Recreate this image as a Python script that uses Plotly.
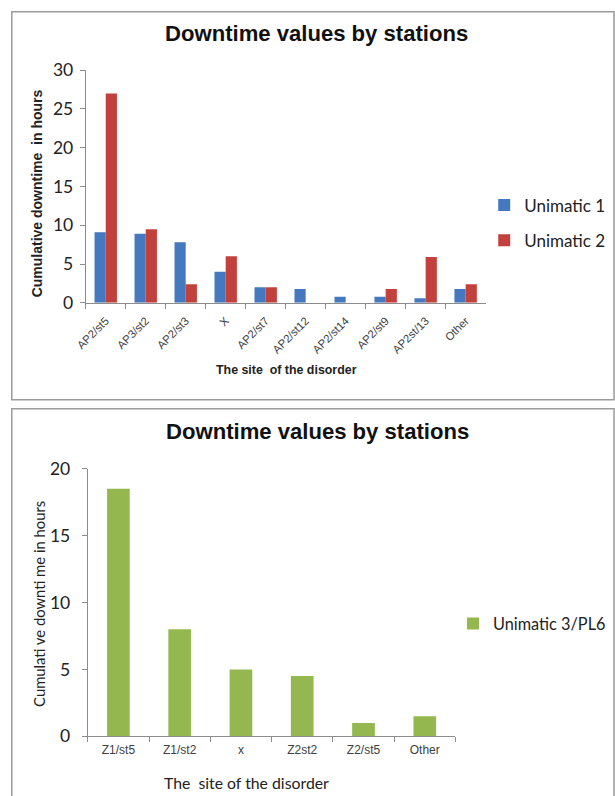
import plotly.graph_objects as go

# ---------------- data ----------------
categories_top = ["AP2/st5", "AP3/st2", "AP2/st3", "X", "AP2/st7", "AP2/st12",
                  "AP2/st14", "AP2/st9", "AP2st/13", "Other"]
unimatic1 = [9.1, 8.9, 7.8, 4.0, 2.0, 1.8, 0.8, 0.8, 0.6, 1.8]
unimatic2 = [27.0, 9.5, 2.4, 6.0, 2.0, 0, 0, 1.8, 5.9, 2.4]

categories_bottom = ["Z1/st5", "Z1/st2", "x", "Z2st2", "Z2/st5", "Other"]
unimatic3 = [18.5, 8.0, 5.0, 4.5, 1.0, 1.5]

top_y_ticks = [0, 5, 10, 15, 20, 25, 30]
bottom_y_ticks = [0, 5, 10, 15, 20]

# ---------------- layout helpers ----------------
# Page keeps its default 8px body margin and the capture is slightly
# scaled, so reference pixel positions are mapped into figure pixels.
S = 0.975
OFF = 8
W, H = 615, 802
def fx(x):
    return x / S - OFF
def fy(y):
    return y / S - OFF
def px(x):
    return fx(x) / W
def py(y):
    return 1 - fy(y) / H

BLUE = "#4479BF"
RED = "#C3413D"
GREEN = "#94B84F"
AXIS = "#8C8C8C"
TXT = "#222222"
CAL = "Lato, 'Open Sans', sans-serif"
ARI = "'Liberation Sans', Arial, sans-serif"

fig = go.Figure()

fig.add_trace(go.Bar(x=categories_top, y=unimatic1, name="Unimatic 1",
                     marker=dict(color=BLUE, line=dict(width=0)),
                     xaxis="x", yaxis="y", legend="legend", legendgroup="a"))
fig.add_trace(go.Bar(x=categories_top, y=unimatic2, name="Unimatic 2",
                     marker=dict(color=RED, line=dict(width=0)),
                     xaxis="x", yaxis="y", legend="legend", legendgroup="b"))
fig.add_trace(go.Bar(x=categories_bottom, y=unimatic3, name="Unimatic 3/PL6",
                     marker=dict(color=GREEN, line=dict(width=0)), width=0.37,
                     xaxis="x2", yaxis="y2", legend="legend2"))

common_x = dict(showgrid=False, zeroline=False, showline=True, linecolor=AXIS,
                linewidth=1, ticks="outside", tickson="boundaries", ticklen=5,
                tickcolor=AXIS, fixedrange=True)
common_y = dict(showgrid=False, zeroline=False, showline=True, linecolor=AXIS,
                linewidth=1, ticks="outside", ticklen=5, tickcolor=AXIS,
                tickmode="array", fixedrange=True)

LEG_TEXT_OFF = 43.5  # figure px from legend left edge to item text

fig.update_layout(
    width=W, height=H,
    margin=dict(l=0, r=0, t=0, b=0),
    paper_bgcolor="white", plot_bgcolor="white",
    barmode="group", bargap=0.44, bargroupgap=0,
    xaxis=dict(domain=[px(82), px(479)], anchor="y",
               tickangle=-45, ticklabelstandoff=6,
               tickfont=dict(family=ARI, size=11.3, color="#404040"),
               **common_x),
    yaxis=dict(domain=[py(300), py(67)], anchor="x", range=[0, 30],
               tickvals=top_y_ticks, ticklabelstandoff=3,
               tickfont=dict(family=CAL, size=17.5, color=TXT),
               **common_y),
    xaxis2=dict(domain=[px(84), px(449)], anchor="y2",
                tickangle=0, ticklabelstandoff=2,
                tickfont=dict(family=ARI, size=12, color="#404040"),
                **common_x),
    yaxis2=dict(domain=[py(734), py(466)], anchor="x2", range=[0, 20],
                tickvals=bottom_y_ticks, ticklabelstandoff=8,
                tickfont=dict(family=CAL, size=17.5, color=TXT),
                **common_y),
    legend=dict(x=(fx(520) - LEG_TEXT_OFF) / W, y=1 - (fy(205) - 21) / H,
                xanchor="left", yanchor="top",
                font=dict(family=CAL, size=17, color=TXT),
                traceorder="grouped", tracegroupgap=10,
                bgcolor="rgba(0,0,0,0)"),
    legend2=dict(x=(fx(489) - LEG_TEXT_OFF) / W, y=1 - (fy(622) - 18.5) / H,
                 xanchor="left", yanchor="top",
                 font=dict(family=CAL, size=16.3, color=TXT),
                 bgcolor="rgba(0,0,0,0)"),
    showlegend=True,
)

shapes = [
    dict(type="rect", xref="paper", yref="paper",
         x0=0.8 / W, x1=(W - 1) / W, y0=py(397), y1=1 - 0.8 / H,
         line=dict(color="#9A9A9A", width=1.5), fillcolor="rgba(0,0,0,0)"),
    dict(type="rect", xref="paper", yref="paper",
         x0=0.8 / W, x1=(W - 1) / W, y0=-0.05, y1=py(406),
         line=dict(color="#9A9A9A", width=1.5), fillcolor="rgba(0,0,0,0)"),
]
fig.update_layout(shapes=shapes)

ann = [
    dict(text="<b>Downtime values by stations</b>", x=px(311), y=py(30),
         font=dict(family=ARI, size=22.1, color="#111111")),
    dict(text="<b>Downtime values by stations</b>", x=px(312), y=py(429),
         font=dict(family=ARI, size=22.1, color="#111111")),
    dict(text="<b>Cumulative downtime  in hours</b>", x=px(34), y=py(190),
         textangle=-90, font=dict(family=ARI, size=14, color=TXT)),
    dict(text="<b>The site  of the disorder</b>", x=px(281), y=py(367),
         font=dict(family=ARI, size=12.4, color=TXT)),
    dict(text="Cumulati ve downti me in hours", x=px(36), y=py(601),
         textangle=-90, font=dict(family=CAL, size=14.8, color=TXT)),
    dict(text="The  site of the disorder", x=px(242), y=py(780),
         font=dict(family=CAL, size=15.8, color=TXT)),
]
for a in ann:
    a.update(xref="paper", yref="paper", showarrow=False,
             xanchor="center", yanchor="middle")
fig.update_layout(annotations=ann)

fig.write_html("out.html")
